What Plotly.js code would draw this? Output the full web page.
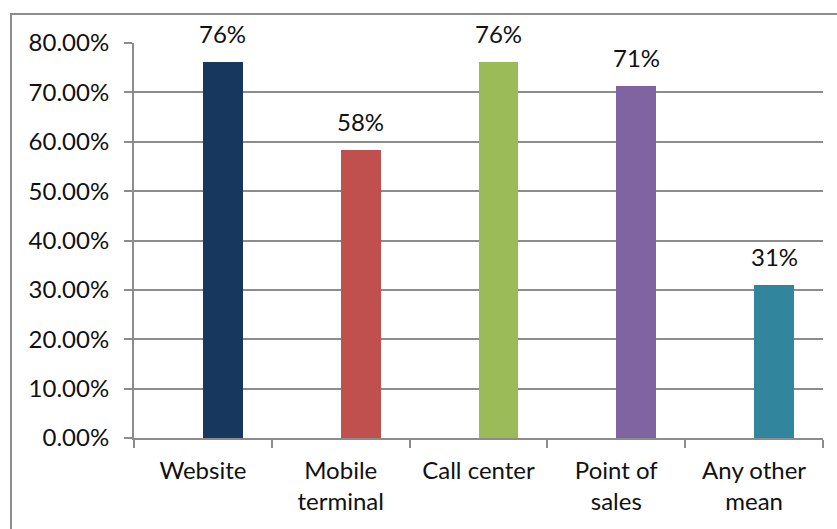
<!DOCTYPE html>
<html>
<head>
<meta charset="utf-8">
<script src="https://cdn.plot.ly/plotly-3.0.1.min.js"></script>
<style>
html,body{margin:0;padding:0;background:#fff;overflow:hidden;}
#frame{position:absolute;left:10px;top:13px;width:900px;height:600px;border:2px solid #8c8c8c;box-sizing:border-box;pointer-events:none;}
#chart{position:absolute;left:0;top:0;width:837px;height:529px;}
</style>
</head>
<body>
<div id="frame"></div>
<div id="chart"></div>
<script>
const categories = ["Website", "Mobile<br>terminal", "Call center", "Point of<br>sales", "Any other<br>mean"];
const values = [0.761, 0.584, 0.761, 0.712, 0.31];
const labels = ["76%", "58%", "76%", "71%", "31%"];
const colors = ["#17375E", "#C0504D", "#9BBB59", "#8064A2", "#31859C"];
const yTicks = [0, 0.1, 0.2, 0.3, 0.4, 0.5, 0.6, 0.7, 0.8];
const yTickLabels = ["0.00%", "10.00%", "20.00%", "30.00%", "40.00%", "50.00%", "60.00%", "70.00%", "80.00%"];

const font = {family: "Lato, 'Open Sans', sans-serif", size: 24, color: "#111"};

const trace = {
  type: "bar",
  x: categories,
  y: values,
  marker: {color: colors, line: {width: 0}},
  width: 0.29,
  offset: 0,
  hoverinfo: "none"
};

const annotations = categories.map((c, i) => ({
  x: c, y: values[i], xref: "x", yref: "y",
  text: labels[i], showarrow: false,
  xanchor: "center", yanchor: "bottom",
  xshift: 20, yshift: 12,
  font: font
}));

const layout = {
  width: 837, height: 529,
  margin: {l: 134, r: 14, t: 43, b: 91, pad: 0},
  paper_bgcolor: "rgba(0,0,0,0)",
  plot_bgcolor: "rgba(0,0,0,0)",
  showlegend: false,
  font: font,
  bargap: 0,
  xaxis: {
    type: "category",
    showgrid: false,
    showline: true, linecolor: "#8c8c8c", linewidth: 2,
    ticks: "outside", tickson: "boundaries", ticklen: 8, tickcolor: "#8c8c8c", tickwidth: 2,
    ticklabelstandoff: 10,
    tickfont: font,
    zeroline: false,
    fixedrange: true
  },
  yaxis: {
    range: [0, 0.8],
    tickvals: yTicks, ticktext: yTickLabels,
    showgrid: true, gridcolor: "#8c8c8c", gridwidth: 2,
    showline: true, linecolor: "#8c8c8c", linewidth: 2,
    ticks: "outside", ticklen: 8, tickcolor: "#8c8c8c", tickwidth: 2,
    ticklabelstandoff: 10,
    tickfont: font,
    zeroline: false,
    fixedrange: true
  },
  annotations: annotations
};

Plotly.newPlot("chart", [trace], layout, {staticPlot: true, displayModeBar: false});
</script>
</body>
</html>
